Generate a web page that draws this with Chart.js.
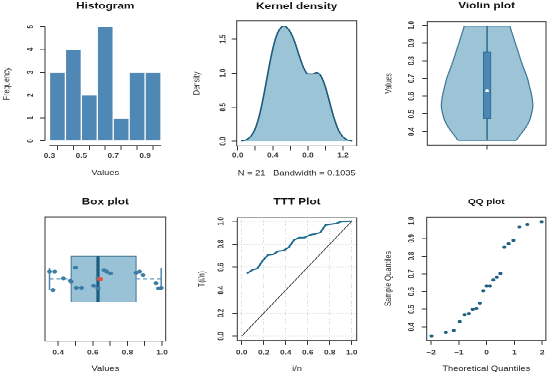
<!DOCTYPE html>
<html><head><meta charset="utf-8">
<script src="https://cdn.jsdelivr.net/npm/chart.js@4.4.1/dist/chart.umd.min.js"></script>
<style>
html,body{margin:0;padding:0;background:#fff;overflow:hidden;width:550px;height:374px}
#wrap{position:absolute;left:0;top:0;width:550px;height:499px;transform:scaleY(0.75);transform-origin:0 0}
canvas{position:absolute;display:block}
</style></head><body>
<div id="wrap">
<canvas id="c1" width="185" height="249" style="left:0;top:0;width:185px;height:249px"></canvas>
<canvas id="c2" width="185" height="249" style="left:185px;top:0;width:185px;height:249px"></canvas>
<canvas id="c3" width="180" height="249" style="left:370px;top:0;width:180px;height:249px"></canvas>
<canvas id="c4" width="185" height="250" style="left:0;top:249px;width:185px;height:250px"></canvas>
<canvas id="c5" width="185" height="250" style="left:185px;top:249px;width:185px;height:250px"></canvas>
<canvas id="c6" width="180" height="250" style="left:370px;top:249px;width:180px;height:250px"></canvas>
</div>
<script>
// ---------------- data ----------------
const values = [0.35,0.37,0.38,0.43,0.47,0.475,0.50,0.505,0.535,0.605,0.63,0.63,0.665,0.68,0.702,0.85,0.87,0.89,0.965,0.98,0.995];
const histCenters = [0.35,0.45,0.55,0.65,0.75,0.85,0.95];
const histCounts = [3,4,2,5,1,3,3];
const densX = [0.04,0.10,0.15,0.20,0.25,0.30,0.35,0.40,0.45,0.50,0.525,0.55,0.60,0.65,0.70,0.75,0.80,0.85,0.90,0.95,1.00,1.05,1.10,1.15,1.20,1.25,1.305];
const densY = [0.004,0.023,0.072,0.186,0.393,0.694,1.041,1.357,1.577,1.679,1.691,1.681,1.606,1.459,1.263,1.083,0.990,0.989,1.008,0.955,0.795,0.562,0.331,0.160,0.063,0.020,0.004];
const violinY = [0.35,0.38,0.42,0.46,0.50,0.54,0.58,0.62,0.66,0.70,0.74,0.78,0.82,0.86,0.90,0.94,0.97,0.995];
const violinHalf = [0.66,0.75,0.87,0.96,1.01,1.04,1.03,1.00,0.96,0.92,0.86,0.80,0.745,0.695,0.64,0.59,0.55,0.52];
const boxFive = [0.35,0.475,0.63,0.85,0.995];
const boxMean = 0.642;
const boxJitter = [0.559,0.411,0.559,0.506,0.486,0.48,0.591,0.43,0.43,0.444,0.506,0.425,0.573,0.559,0.546,0.551,0.559,0.532,0.465,0.425,0.43];
const tttX = [0.048,0.095,0.143,0.190,0.238,0.286,0.333,0.381,0.429,0.476,0.524,0.571,0.619,0.667,0.714,0.762,0.810,0.857,0.905,0.952,1.0];
const tttY = [0.545,0.575,0.589,0.656,0.706,0.712,0.740,0.745,0.774,0.837,0.857,0.857,0.880,0.889,0.901,0.967,0.974,0.980,0.997,0.999,1.0];
const qqTheo = [-1.981,-1.466,-1.180,-0.967,-0.792,-0.637,-0.497,-0.366,-0.241,-0.120,0,0.120,0.241,0.366,0.497,0.637,0.792,0.967,1.180,1.466,1.981];

// tick values and labels
const histXTicks = [0.3,0.4,0.5,0.6,0.7,0.8,0.9,1.0];
const histXLabels = ['0.3','','0.5','','0.7','','0.9',''];
const histYTicks = [0,1,2,3,4,5];
const histYLabels = ['0','1','2','3','4','5'];
const densXTicks = [0,0.2,0.4,0.6,0.8,1.0,1.2];
const densXLabels = ['0.0','','0.4','','0.8','','1.2'];
const densYTicks = [0,0.5,1.0,1.5];
const densYLabels = ['0.0','0.5','1.0','1.5'];
const valTicks = [0.4,0.5,0.6,0.7,0.8,0.9,1.0];
const valLabels = ['0.4','0.5','0.6','0.7','0.8','0.9','1.0'];
const boxXLabels = ['0.4','','0.6','','0.8','','1.0'];
const unitTicks = [0,0.2,0.4,0.6,0.8,1.0];
const unitLabels = ['0.0','0.2','0.4','0.6','0.8','1.0'];
const qqXTicks = [-2,-1,0,1,2];
const qqXLabels = ['\u22122','\u22121','0','1','2'];

// ---------------- helpers ----------------
const FAM = "'Liberation Sans', Arial, Helvetica, sans-serif";
const TF = {family: FAM, size: 8.3, weight: 'bold'};
const LF = {family: FAM, size: 9.3};
Chart.defaults.font.family = FAM;
const mctx = document.createElement('canvas').getContext('2d');
function widest(labels, f) {
  mctx.font = (f.weight || 'normal') + ' ' + f.size + 'px ' + f.family;
  return Math.max(...labels.map(l => mctx.measureText(l).width));
}
const rFrame = {
  id: 'rFrame',
  afterDraw(chart, args, o) {
    const {ctx, chartArea: a} = chart;
    ctx.save();
    ctx.strokeStyle = '#333';
    ctx.lineWidth = 1;
    if (o.box) {
      ctx.strokeRect(a.left, a.top, a.right - a.left, a.bottom - a.top);
    }
    if (o.axes) {
      const xs = chart.scales.x, ys = chart.scales.y;
      const x0 = xs.getPixelForValue(xs.ticks[0].value), x1 = xs.getPixelForValue(xs.ticks[xs.ticks.length - 1].value);
      const y0 = ys.getPixelForValue(ys.ticks[0].value), y1 = ys.getPixelForValue(ys.ticks[ys.ticks.length - 1].value);
      ctx.beginPath();
      ctx.moveTo(x0, a.bottom); ctx.lineTo(x1, a.bottom);
      ctx.moveTo(a.left, y0); ctx.lineTo(a.left, y1);
      ctx.stroke();
    }
    ctx.restore();
  }
};
Chart.register(rFrame);

function gridOpts(extra) {
  return Object.assign({display: true, drawOnChartArea: false, drawTicks: true, tickColor: '#333', tickWidth: 1,
    tickBorderDash: [], color: '#D3D3D3', lineWidth: 1}, extra || {});
}
function xAxis(o) {
  return {
    type: 'linear', min: o.min, max: o.max, offset: false,
    afterBuildTicks: s => { s.ticks = o.ticks.map(v => ({value: v})); },
    afterFit: s => { s.height = o.height; },
    ticks: {autoSkip: false, minRotation: 0, maxRotation: 0, padding: o.tickPad, font: TF, color: '#3A3A3A',
      callback: (v, i) => o.labels[i]},
    grid: gridOpts(Object.assign({tickLength: 6.2}, o.grid || {})),
    border: {display: false, dash: o.dash || []},
    title: o.title ? {display: true, text: o.title, font: LF, color: '#222', padding: {top: 0, bottom: o.titlePad}} : {display: false}
  };
}
function yAxis(o) {
  const w = widest(o.labels, TF);
  const tl = 5;
  const pad = o.width - tl - o.labelCenter - w / 2;
  const tf = o.titleFont || LF;
  return {
    type: 'linear', min: o.min, max: o.max, offset: false,
    afterBuildTicks: s => { s.ticks = o.ticks.map(v => ({value: v})); },
    afterFit: s => { s.width = o.width; },
    ticks: {autoSkip: false, minRotation: 90, maxRotation: 90, crossAlign: 'center', padding: pad, font: TF, color: '#3A3A3A',
      callback: (v, i) => o.labels[i]},
    grid: gridOpts(Object.assign({tickLength: tl}, o.grid || {})),
    border: {display: false, dash: o.dash || []},
    title: {display: true, text: o.title, font: tf, color: '#333', padding: {top: o.titleCenter - tf.size * 0.6, bottom: 0}}
  };
}
function baseOpts(o) {
  const tfont = {family: FAM, size: o.titleSize || 11.8, weight: 'bold'};
  return {
    responsive: false, animation: false, devicePixelRatio: 2,
    indexAxis: o.indexAxis || 'x',
    layout: {padding: o.padding},
    elements: {point: {radius: 0}, line: {tension: 0}},
    plugins: {
      legend: {display: false}, tooltip: {enabled: false},
      title: {display: true, text: o.title, font: tfont, color: '#111', fullSize: false,
        padding: {top: o.tTop, bottom: o.tBottom}},
      rFrame: o.frame
    },
    scales: o.scales
  };
}
const pts = (xs, ys) => xs.map((x, i) => ({x: x, y: ys[i]}));

// ---------------- 1. Histogram ----------------
new Chart(document.getElementById('c1'), {
  type: 'bar',
  data: {datasets: [{data: pts(histCenters, histCounts), backgroundColor: '#4F87B5', borderColor: '#FFFFFF',
    borderWidth: 1, barPercentage: 1, categoryPercentage: 1}]},
  options: baseOpts({
    padding: {left: 0, right: 19.5, top: 0, bottom: 0},
    title: 'Histogram', tTop: 1.2, tBottom: 13.9,
    frame: {axes: true},
    scales: {
      x: xAxis({min: 0.272, max: 1.028, ticks: histXTicks, labels: histXLabels, height: 55.3, tickPad: 2.7, title: 'Values', titlePad: 13.1}),
      y: yAxis({min: -0.2, max: 5.2, ticks: histYTicks, labels: histYLabels, width: 45, labelCenter: 30.7, title: 'Frequency', titleCenter: 6.7})
    }
  })
});

// ---------------- 2. Kernel density ----------------
new Chart(document.getElementById('c2'), {
  type: 'line',
  data: {datasets: [{data: pts(densX, densY), fill: 'origin', backgroundColor: '#9CC4D7', borderColor: '#1B5A7A',
    borderWidth: 1.6, pointRadius: 0, cubicInterpolationMode: 'monotone'}]},
  options: baseOpts({
    padding: {left: 0, right: 13.3, top: 0, bottom: 0},
    title: 'Kernel density', tTop: 1.7, tBottom: 11.9,
    frame: {box: true},
    scales: {
      x: xAxis({min: -0.011, max: 1.356, ticks: densXTicks, labels: densXLabels, height: 54.7, tickPad: 1.6,
        title: 'N = 21   Bandwidth = 0.1035', titlePad: 12.4}),
      y: yAxis({min: -0.068, max: 1.768, ticks: densYTicks, labels: densYLabels, width: 51.7, labelCenter: 38.3, title: 'Density', titleCenter: 11.7})
    }
  })
});

// ---------------- 3. Violin plot ----------------
const vq1 = boxFive[1], vq3 = boxFive[3], vbw = 0.083;
const vTop = violinY[violinY.length - 1], vBot = violinY[0];
const vTopW = violinHalf[violinHalf.length - 1], vBotW = violinHalf[0];
const vFill = '#9DC3D7', vLine = '#3C7595';
new Chart(document.getElementById('c3'), {
  type: 'line',
  data: {datasets: [
    {data: violinY.map((y, i) => ({x: violinHalf[i], y: y})), fill: 'origin', backgroundColor: vFill, borderColor: vLine, borderWidth: 1.2, tension: 0.3, order: 10},
    {data: violinY.map((y, i) => ({x: -violinHalf[i], y: y})), fill: 'origin', backgroundColor: vFill, borderColor: vLine, borderWidth: 1.2, tension: 0.3, order: 10},
    {data: [{x: -vTopW, y: vTop}, {x: vTopW, y: vTop}], borderColor: vLine, borderWidth: 1.2, fill: false, order: 9},
    {data: [{x: -vBotW, y: vBot}, {x: vBotW, y: vBot}], borderColor: vLine, borderWidth: 1.2, fill: false, order: 9},
    {data: [{x: 0, y: boxFive[0]}, {x: 0, y: boxFive[4]}], borderColor: '#1F5F7F', borderWidth: 1.3, fill: false, order: 6},
    {data: [{x: -vbw, y: vq1}, {x: -vbw, y: vq3}], fill: {target: {value: vbw}}, backgroundColor: '#4A87B1', borderColor: '#2F6A8E', borderWidth: 0.8, order: 4},
    {data: [{x: -vbw, y: vq1}, {x: -vbw, y: vq3}, {x: vbw, y: vq3}, {x: vbw, y: vq1}, {x: -vbw, y: vq1}], borderColor: '#2F6A8E', borderWidth: 0.8, fill: false, order: 3},
    {data: [{x: 0, y: boxFive[2]}], showLine: false, pointRadius: 1.8, pointBackgroundColor: '#FFFFFF', pointBorderColor: '#FFFFFF', pointBorderWidth: 0, order: 1}
  ]},
  options: baseOpts({
    indexAxis: 'y',
    padding: {left: 0, right: 4, top: 0, bottom: 0},
    title: 'Violin plot', tTop: 0.8, tBottom: 13.7,
    frame: {box: true},
    scales: {
      x: xAxis({min: -1.36, max: 1.34, ticks: [0], labels: [''], height: 55.7, tickPad: 2}),
      y: yAxis({min: 0.324, max: 1.021, ticks: valTicks, labels: valLabels, width: 57.3, labelCenter: 41.7, title: 'Values', titleCenter: 19})
    }
  })
});

// ---------------- 4. Box plot ----------------
const bq1 = boxFive[1], bmed = boxFive[2], bq3 = boxFive[3];
const bTop = 0.685, bBot = 0.315, bMid = 0.5, capLo = 0.41, capHi = 0.59;
new Chart(document.getElementById('c4'), {
  type: 'line',
  data: {datasets: [
    {data: pts(values, boxJitter), showLine: false, pointRadius: 2.3, pointBackgroundColor: '#3B7DA6', pointBorderColor: '#3B7DA6', pointBorderWidth: 0.5, order: 2},
    {data: [{x: boxMean, y: bMid}], showLine: false, pointRadius: 3, pointBackgroundColor: '#E5533F', pointBorderColor: '#E5533F', pointBorderWidth: 0, order: 1},
    {data: [{x: bq1, y: bTop}, {x: bq3, y: bTop}], fill: {target: {value: bBot}}, backgroundColor: '#99C2D7', borderWidth: 0, order: 9},
    {data: [{x: bq1, y: bBot}, {x: bq1, y: bTop}, {x: bq3, y: bTop}, {x: bq3, y: bBot}, {x: bq1, y: bBot}], borderColor: '#3D7494', borderWidth: 1, fill: false, order: 8},
    {data: [{x: bmed, y: bBot}, {x: bmed, y: bTop}], borderColor: '#1A5C7D', borderWidth: 3.2, fill: false, order: 7},
    {data: [{x: boxFive[0], y: bMid}, {x: bq1, y: bMid}], borderColor: '#7FAACA', borderWidth: 1.5, borderDash: [4, 3], fill: false, order: 6},
    {data: [{x: bq3, y: bMid}, {x: boxFive[4], y: bMid}], borderColor: '#7FAACA', borderWidth: 1.5, borderDash: [4, 3], fill: false, order: 6},
    {data: [{x: boxFive[0], y: capLo}, {x: boxFive[0], y: capHi}], borderColor: '#4F88AE', borderWidth: 1.5, fill: false, order: 5},
    {data: [{x: boxFive[4], y: capLo}, {x: boxFive[4], y: capHi}], borderColor: '#4F88AE', borderWidth: 1.5, fill: false, order: 5}
  ]},
  options: baseOpts({
    padding: {left: 45, right: 19.3, top: 0, bottom: 0},
    title: 'Box plot', tTop: 13.1, tBottom: 12.8,
    frame: {box: true},
    scales: {
      x: xAxis({min: 0.324, max: 1.021, ticks: valTicks, labels: boxXLabels, height: 44.3, tickPad: 4.4, title: 'Values', titlePad: 1.8}),
      y: {type: 'linear', min: 0, max: 1, display: false}
    }
  })
});

// ---------------- 5. TTT plot ----------------
new Chart(document.getElementById('c5'), {
  type: 'line',
  data: {datasets: [
    {data: pts(tttX, tttY), borderColor: '#1E6B8B', borderWidth: 2, fill: false, order: 1},
    {data: [{x: 0, y: 0}, {x: 1, y: 1}], borderColor: '#222', borderWidth: 0.8, fill: false, order: 2}
  ]},
  options: baseOpts({
    padding: {left: 0, right: 13.3, top: 0, bottom: 0},
    title: 'TTT Plot', tTop: 13.1, tBottom: 13.8,
    frame: {box: true},
    scales: {
      x: xAxis({min: -0.04, max: 1.045, ticks: unitTicks, labels: unitLabels, height: 45.3, tickPad: 5.4, title: 'i/n', titlePad: 1.8,
        grid: {drawOnChartArea: true}, dash: [1, 2]}),
      y: yAxis({min: -0.037, max: 1.031, ticks: unitTicks, labels: unitLabels, width: 52.3, labelCenter: 36, title: 'T(i/n)', titleCenter: 16.7,
        grid: {drawOnChartArea: true}, dash: [1, 2]})
    }
  })
});

// ---------------- 6. QQ plot ----------------
new Chart(document.getElementById('c6'), {
  type: 'line',
  data: {datasets: [
    {data: pts(qqTheo, values), showLine: false, pointRadius: 2, pointBackgroundColor: '#1F5F80', pointBorderColor: '#1F5F80', pointBorderWidth: 0}
  ]},
  options: baseOpts({
    padding: {left: 0, right: 4, top: 0, bottom: 0},
    title: 'QQ plot', titleSize: 10, tTop: 14.3, tBottom: 14,
    frame: {box: true},
    scales: {
      x: xAxis({min: -2.155, max: 2.133, ticks: qqXTicks, labels: qqXLabels, height: 45.3, tickPad: 5.4, title: 'Theoretical Quantiles', titlePad: 1.8}),
      y: yAxis({min: 0.324, max: 1.021, ticks: valTicks, labels: valLabels, width: 56.7, labelCenter: 41.7, title: 'Sample Quantiles', titleCenter: 18.3})
    }
  })
});
</script>
</body></html>
